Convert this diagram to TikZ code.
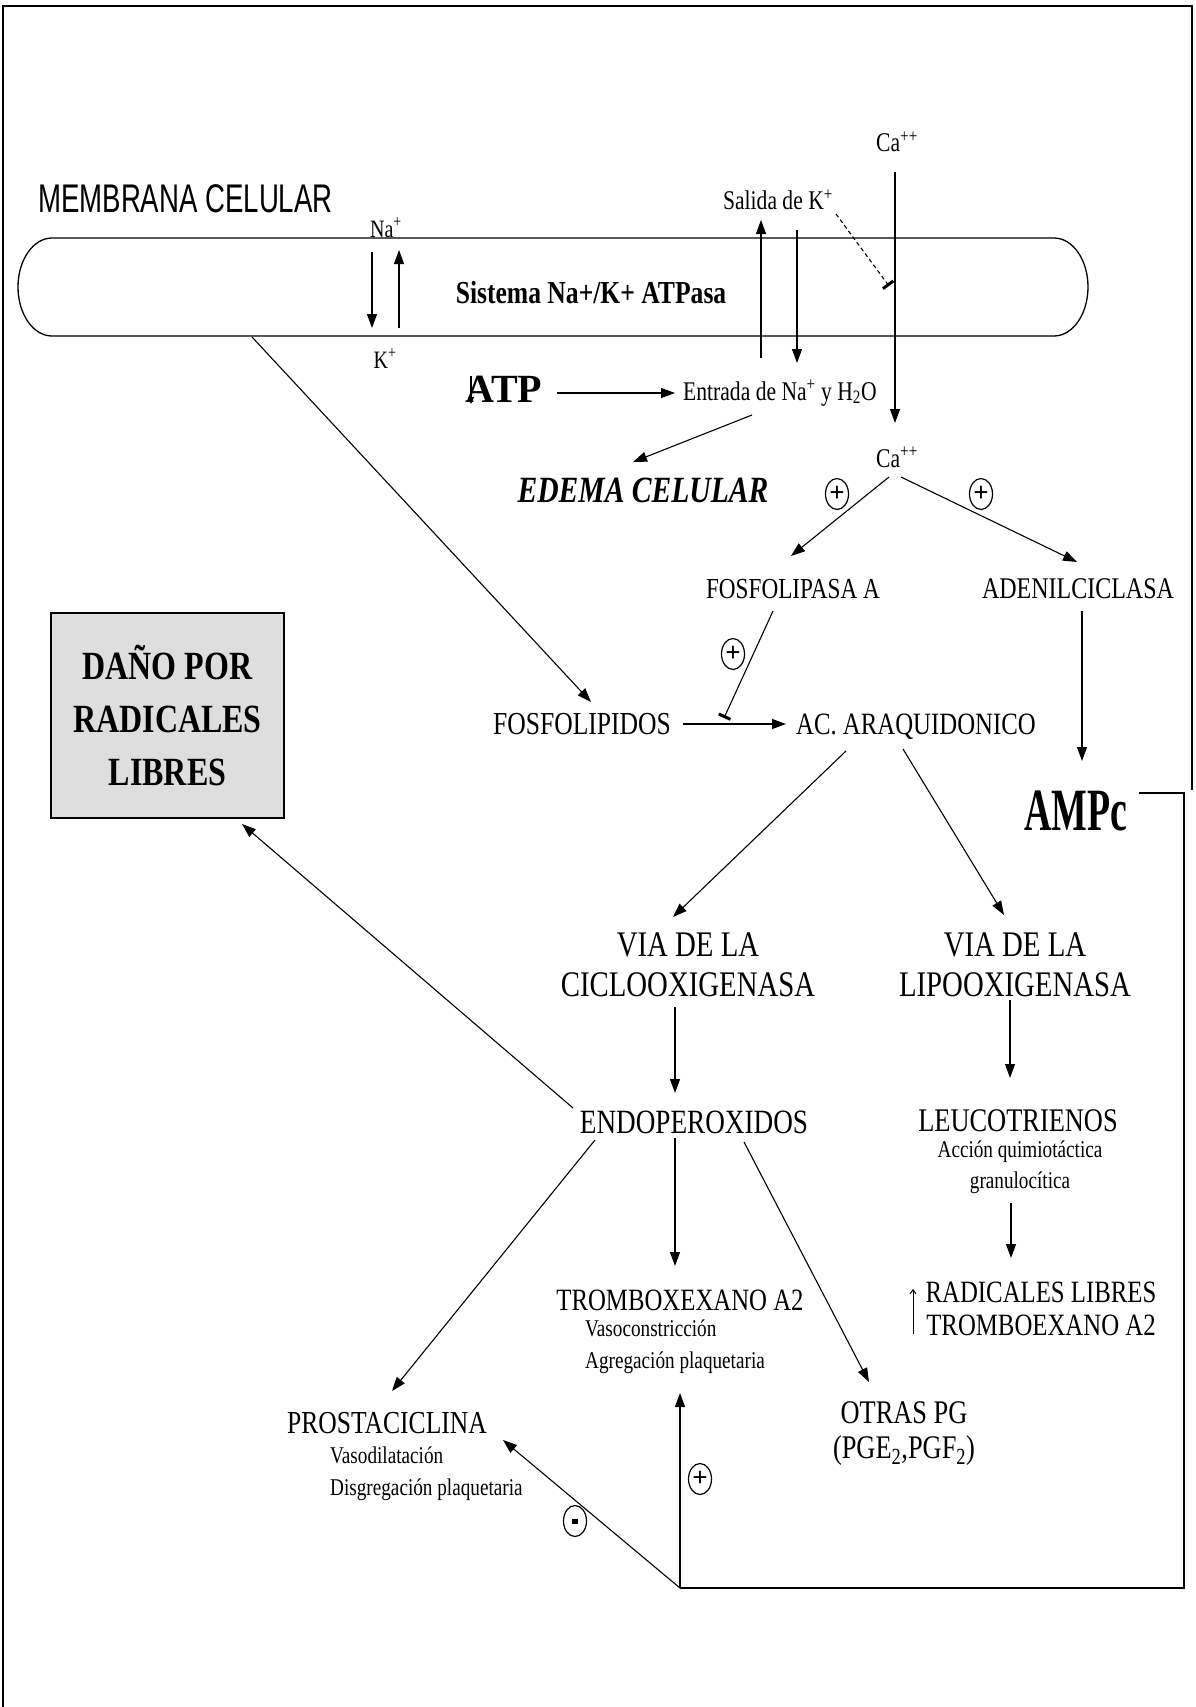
\documentclass[tikz,border=0pt]{standalone}
\usepackage{fontspec}
\usetikzlibrary{arrows.meta,shapes.geometric}
\newfontfamily\srf[FakeStretch=0.8]{Liberation Serif}
\newfontfamily\srfwide{Liberation Serif}
\newfontfamily\srfnarrow[FakeStretch=0.63]{Liberation Serif}
\newfontfamily\snsnarrow[FakeStretch=0.69]{Liberation Sans}
\newcommand\fsz[1]{\fontsize{#1}{#1}\selectfont}
\newcommand\fszl[2]{\fontsize{#1}{#2}\selectfont}

\begin{document}
\begin{tikzpicture}[x=1pt,y=-1pt,
  lbl/.style={inner sep=0pt, anchor=base},
  arr/.style={line width=1.1pt, -{Triangle[length=14pt,width=10pt]}},
  blockarr/.style={line width=1.1pt, -{Bar[width=13pt,line width=3pt]}},
  sign/.style={draw, ellipse, line width=1.2pt, minimum width=23pt,
    minimum height=31pt, inner sep=0pt, font=\srfwide\bfseries\fsz{27}},
  frame/.style={line width=2pt}
]
\useasboundingbox (0,0) rectangle (1195,1707);

% outer frame
\draw[frame] (3,1707) -- (3,6) -- (1192,6) -- (1192,790);

% cell membrane band
\draw[line width=1.3pt] (52,238) -- (1054,238)
  arc[start angle=-90, end angle=90, x radius=34, y radius=49]
  -- (52,336)
  arc[start angle=90, end angle=270, x radius=34, y radius=49] -- cycle;
\node[lbl, font=\snsnarrow\fsz{40}, anchor=base west] (title) at (38,212) {MEMBRANA CELULAR};
\node[lbl, font=\srf\bfseries\fsz{32}] (atpasa) at (591,303) {Sistema Na+/K+ ATPasa};

% Na / K exchange
\node[lbl, font=\srf\fsz{25}] (na) at (386,237) {Na\textsuperscript{+}};
\node[lbl, font=\srf\fsz{25}] (k) at (385,368) {K\textsuperscript{+}};
\coordinate (na-out) at (372,252);
\coordinate (k-in) at (372,328);
\coordinate (k-out) at (399,328);
\coordinate (na-in) at (399,250);
\draw[arr] (na-out) -- (k-in);
\draw[arr] (k-out) -- (na-in);

% potassium exit, sodium and water entry
\node[lbl, font=\srf\fsz{27}] (salida) at (778,210) {Salida de K\textsuperscript{+}};
\node[lbl, font=\srf\fsz{27}, anchor=base west] (entrada) at (683,400) {Entrada de Na\textsuperscript{+} y H\textsubscript{2}O};
\coordinate (salida-foot) at (761,358);
\coordinate (salida-tip) at (761,220);
\coordinate (entrada-top) at (797,230);
\coordinate (entrada-tip) at (797,363);
\draw[arr] (salida-foot) -- (salida-tip);
\draw[arr] (entrada-top) -- (entrada-tip);

% calcium entry
\node[lbl, font=\srf\fsz{27}] (catop) at (897,152) {Ca\textsuperscript{++}};
\node[lbl, font=\srf\fsz{27}] (calow) at (897,467) {Ca\textsuperscript{++}};
\coordinate (catop-foot) at (895,172);
\coordinate (calow-top) at (895,423);
\draw[arr] (catop-foot) -- (calow-top);
\coordinate (salida-end) at (836,214);
\coordinate (ca-block) at (889,286);
\draw[line width=1.1pt, dash pattern=on 4pt off 3pt, -{Bar[width=13pt,line width=3pt]}] (salida-end) -- (ca-block);

% ATP fall
\node[lbl, font=\srfwide\bfseries\fsz{40}, anchor=base west] (atp) at (465,402) {ATP};
\coordinate (atp-dtop) at (471,376);
\coordinate (atp-dbot) at (471,404);
\draw[line width=1.2pt, -{Triangle[length=7pt,width=6pt]}] (atp-dtop) -- (atp-dbot);
\coordinate (atp-east) at (557,393);
\coordinate (entrada-west) at (675,393);
\draw[arr] (atp-east) -- (entrada-west);

% cellular oedema
\node[lbl, font=\srf\bfseries\itshape\fsz{37}] (edema) at (643,502) {EDEMA CELULAR};
\coordinate (entrada-foot) at (752,415);
\coordinate (edema-top) at (633,462);
\draw[arr] (entrada-foot) -- (edema-top);

% calcium activations
\node[lbl, font=\srf\fsz{29}] (fosfa) at (793,598) {FOSFOLIPASA A};
\node[lbl, font=\srf\fsz{30}] (adenil) at (1078,598) {ADENILCICLASA};
\coordinate (calow-l) at (889,477);
\coordinate (calow-r) at (901,477);
\coordinate (fosfa-top) at (791,556);
\coordinate (adenil-top) at (1077,562);
\draw[arr] (calow-l) -- (fosfa-top);
\draw[arr] (calow-r) -- (adenil-top);
\node[sign] (plus1) at (837,494) {+};
\node[sign] (plus2) at (981,494) {+};

% phospholipids to arachidonic acid
\node[lbl, font=\srf\fsz{32}] (fosfo) at (582,734) {FOSFOLIPIDOS};
\node[lbl, font=\srf\fsz{31}] (acara) at (916,734) {AC. ARAQUIDONICO};
\coordinate (memb-foot) at (252,337);
\coordinate (fosfo-top) at (591,702);
\draw[arr] (memb-foot) -- (fosfo-top);
\coordinate (fosfo-east) at (683,724);
\coordinate (acara-west) at (786,724);
\draw[arr] (fosfo-east) -- (acara-west);
\coordinate (fosfa-foot) at (773,611);
\coordinate (fosfo-block) at (724,718);
\draw[blockarr] (fosfa-foot) -- (fosfo-block);
\node[sign] (plus3) at (733,654) {+};

% cyclic AMP
\node[lbl, font=\srfnarrow\bfseries\fsz{60}] (ampc) at (1076,830) {AMPc};
\coordinate (adenil-foot) at (1082,611);
\coordinate (ampc-top) at (1082,761);
\draw[arr] (adenil-foot) -- (ampc-top);

% free radical damage
\node[draw, line width=1.5pt, fill=black!13, minimum width=233pt, minimum height=205pt,
  inner sep=0pt, align=center, font=\srf\bfseries\fszl{40}{53}] (dano) at (167.5,715.5)
  {DAÑO POR\\RADICALES\\LIBRES};

% two metabolic pathways (base anchor = last line)
\node[lbl, font=\srf\fszl{36}{40}, align=center] (ciclo) at (688,996) {VIA DE LA\\CICLOOXIGENASA};
\node[lbl, font=\srf\fszl{36}{40}, align=center] (lipo) at (1015,996) {VIA DE LA\\LIPOOXIGENASA};
\coordinate (acara-l) at (846,751);
\coordinate (acara-r) at (903,749);
\coordinate (ciclo-top) at (673,917);
\coordinate (lipo-top) at (1004,915);
\draw[arr] (acara-l) -- (ciclo-top);
\draw[arr] (acara-r) -- (lipo-top);

\node[lbl, font=\srf\fsz{34}] (endo) at (694,1133) {ENDOPEROXIDOS};
\node[lbl, font=\srf\fsz{33}] (leuco) at (1018,1131) {LEUCOTRIENOS};
\node[lbl, font=\srf\fszl{24}{31}, align=center] (leucotxt) at (1020,1188) {Acción quimiotáctica\\granulocítica};
\coordinate (ciclo-foot) at (675,1007);
\coordinate (endo-top) at (675,1093);
\coordinate (lipo-foot) at (1010,1000);
\coordinate (leuco-top) at (1010,1078);
\draw[arr] (ciclo-foot) -- (endo-top);
\draw[arr] (lipo-foot) -- (leuco-top);

% leukotriene effects
\node[lbl, font=\srf\fszl{31}{33}, align=center] (radic) at (1041,1335) {RADICALES LIBRES\\TROMBOEXANO A2};
\coordinate (leucotxt-foot) at (1011,1203);
\coordinate (radic-top) at (1011,1258);
\draw[arr] (leucotxt-foot) -- (radic-top);
\coordinate (radic-up-b) at (913,1334);
\coordinate (radic-up-t) at (913,1289);
\draw[line width=1pt, -{Straight Barb[length=4pt,width=6pt]}] (radic-up-b) -- (radic-up-t);

% endoperoxide products
\node[lbl, font=\srf\fsz{31}] (tromb) at (680,1310) {TROMBOXEXANO A2};
\node[lbl, font=\srf\fszl{24}{32}, align=left, anchor=base west] (trombtxt) at (585,1368) {Vasoconstricción\\Agregación plaquetaria};
\node[lbl, font=\srf\fsz{32}] (prosta) at (387,1433) {PROSTACICLINA};
\node[lbl, font=\srf\fszl{24}{32}, align=left, anchor=base west] (prostatxt) at (330,1495) {Vasodilatación\\Disgregación plaquetaria};
\node[lbl, font=\srf\fszl{33}{35}, align=center] (otras) at (904,1458) {OTRAS PG\\(PGE\textsubscript{2},PGF\textsubscript{2})};

\coordinate (endo-nw) at (573,1108);
\coordinate (dano-tip) at (242,824);
\draw[arr] (endo-nw) -- (dano-tip);
\coordinate (endo-s) at (675,1138);
\coordinate (tromb-top) at (675,1266);
\draw[arr] (endo-s) -- (tromb-top);
\coordinate (endo-se) at (744,1142);
\coordinate (otras-top) at (869,1382);
\draw[arr] (endo-se) -- (otras-top);
\coordinate (endo-sw) at (595,1140);
\coordinate (prosta-top) at (392,1391);
\draw[arr] (endo-sw) -- (prosta-top);

% cyclic AMP feedback
\coordinate (ampc-east) at (1139,793);
\coordinate (loop-corner) at (1184,1588);
\coordinate (loop-node) at (680,1588);
\coordinate (trombtxt-foot) at (680,1393);
\coordinate (prosta-tip) at (503,1440);
\draw[line width=1.1pt] (ampc-east) -| (loop-corner) -- (loop-node);
\draw[arr] (loop-node) -- (trombtxt-foot);
\draw[arr] (loop-node) -- (prosta-tip);
\node[sign] (plus4) at (700,1479) {+};
\node[sign] (minus1) at (575,1521) {\rule{6pt}{5pt}};

\end{tikzpicture}
\end{document}
